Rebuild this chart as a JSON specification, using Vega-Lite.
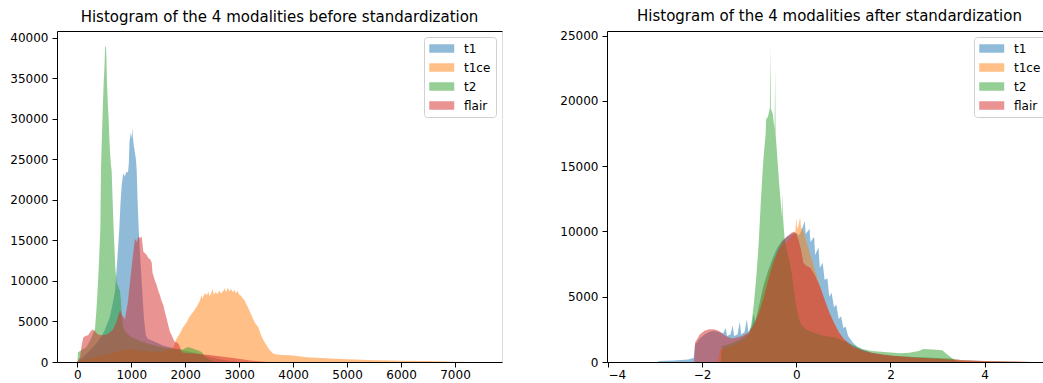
{
  "$schema": "https://vega.github.io/schema/vega-lite/v6.json",
  "padding": {"left": 9, "top": 8, "right": 0, "bottom": 0},
  "spacing": 56,
  "datasets": {
    "before": [
      {"m":"t1","v":0,"c":0},{"m":"t1","v":40,"c":300},{"m":"t1","v":100,"c":600},{"m":"t1","v":200,"c":1200},{"m":"t1","v":300,"c":1900},{"m":"t1","v":400,"c":2700},{"m":"t1","v":500,"c":3800},{"m":"t1","v":600,"c":5500},{"m":"t1","v":650,"c":7000},{"m":"t1","v":700,"c":8800},{"m":"t1","v":740,"c":12500},{"m":"t1","v":778,"c":16400},{"m":"t1","v":800,"c":19500},{"m":"t1","v":822,"c":21800},{"m":"t1","v":852,"c":23300},{"m":"t1","v":880,"c":22900},{"m":"t1","v":910,"c":23500},{"m":"t1","v":940,"c":23400},{"m":"t1","v":955,"c":24500},{"m":"t1","v":968,"c":27200},{"m":"t1","v":990,"c":28300},{"m":"t1","v":1008,"c":27600},{"m":"t1","v":1019,"c":28900},{"m":"t1","v":1030,"c":27800},{"m":"t1","v":1045,"c":26800},{"m":"t1","v":1065,"c":26000},{"m":"t1","v":1087,"c":25000},{"m":"t1","v":1100,"c":23800},{"m":"t1","v":1119,"c":19700},{"m":"t1","v":1140,"c":16200},{"m":"t1","v":1165,"c":13000},{"m":"t1","v":1193,"c":10000},{"m":"t1","v":1215,"c":7500},{"m":"t1","v":1236,"c":5400},{"m":"t1","v":1267,"c":3400},{"m":"t1","v":1300,"c":2900},{"m":"t1","v":1400,"c":2600},{"m":"t1","v":1500,"c":2300},{"m":"t1","v":1600,"c":2000},{"m":"t1","v":1800,"c":1700},{"m":"t1","v":2000,"c":1400},{"m":"t1","v":2200,"c":1100},{"m":"t1","v":2400,"c":750},{"m":"t1","v":2600,"c":400},{"m":"t1","v":2800,"c":150},{"m":"t1","v":3000,"c":0},
      {"m":"t1ce","v":0,"c":0},{"m":"t1ce","v":50,"c":200},{"m":"t1ce","v":200,"c":400},{"m":"t1ce","v":400,"c":700},{"m":"t1ce","v":600,"c":1000},{"m":"t1ce","v":800,"c":1400},{"m":"t1ce","v":950,"c":1650},{"m":"t1ce","v":1050,"c":1500},{"m":"t1ce","v":1200,"c":1350},{"m":"t1ce","v":1400,"c":1250},{"m":"t1ce","v":1600,"c":1300},{"m":"t1ce","v":1700,"c":1500},{"m":"t1ce","v":1780,"c":1800},{"m":"t1ce","v":1820,"c":2600},{"m":"t1ce","v":1850,"c":3000},{"m":"t1ce","v":1900,"c":3500},{"m":"t1ce","v":1950,"c":4200},{"m":"t1ce","v":2027,"c":4900},{"m":"t1ce","v":2080,"c":5600},{"m":"t1ce","v":2150,"c":6200},{"m":"t1ce","v":2200,"c":6700},{"m":"t1ce","v":2243,"c":7200},{"m":"t1ce","v":2274,"c":7600},{"m":"t1ce","v":2300,"c":8200},{"m":"t1ce","v":2320,"c":7800},{"m":"t1ce","v":2350,"c":8300},{"m":"t1ce","v":2380,"c":8500},{"m":"t1ce","v":2400,"c":8200},{"m":"t1ce","v":2430,"c":8700},{"m":"t1ce","v":2450,"c":8100},{"m":"t1ce","v":2480,"c":8500},{"m":"t1ce","v":2510,"c":9000},{"m":"t1ce","v":2530,"c":8300},{"m":"t1ce","v":2560,"c":8600},{"m":"t1ce","v":2600,"c":8400},{"m":"t1ce","v":2630,"c":8800},{"m":"t1ce","v":2660,"c":8500},{"m":"t1ce","v":2700,"c":8700},{"m":"t1ce","v":2730,"c":9100},{"m":"t1ce","v":2760,"c":8600},{"m":"t1ce","v":2790,"c":9200},{"m":"t1ce","v":2820,"c":8700},{"m":"t1ce","v":2850,"c":9000},{"m":"t1ce","v":2880,"c":8600},{"m":"t1ce","v":2910,"c":8900},{"m":"t1ce","v":2940,"c":8500},{"m":"t1ce","v":2970,"c":8800},{"m":"t1ce","v":3000,"c":8300},{"m":"t1ce","v":3030,"c":8200},{"m":"t1ce","v":3060,"c":7900},{"m":"t1ce","v":3090,"c":7700},{"m":"t1ce","v":3120,"c":7300},{"m":"t1ce","v":3150,"c":6900},{"m":"t1ce","v":3200,"c":6200},{"m":"t1ce","v":3240,"c":5600},{"m":"t1ce","v":3280,"c":5000},{"m":"t1ce","v":3320,"c":4600},{"m":"t1ce","v":3355,"c":4300},{"m":"t1ce","v":3400,"c":3400},{"m":"t1ce","v":3450,"c":2700},{"m":"t1ce","v":3510,"c":2050},{"m":"t1ce","v":3560,"c":1500},{"m":"t1ce","v":3633,"c":1020},{"m":"t1ce","v":3700,"c":930},{"m":"t1ce","v":3800,"c":850},{"m":"t1ce","v":4003,"c":800},{"m":"t1ce","v":4250,"c":600},{"m":"t1ce","v":4600,"c":450},{"m":"t1ce","v":5000,"c":330},{"m":"t1ce","v":5400,"c":250},{"m":"t1ce","v":6000,"c":150},{"m":"t1ce","v":6400,"c":110},{"m":"t1ce","v":6700,"c":80},{"m":"t1ce","v":7000,"c":40},{"m":"t1ce","v":7300,"c":15},{"m":"t1ce","v":7500,"c":0},
      {"m":"t2","v":0,"c":0},{"m":"t2","v":15,"c":1200},{"m":"t2","v":60,"c":1400},{"m":"t2","v":110,"c":1600},{"m":"t2","v":160,"c":1800},{"m":"t2","v":200,"c":2200},{"m":"t2","v":250,"c":2800},{"m":"t2","v":300,"c":3600},{"m":"t2","v":328,"c":4100},{"m":"t2","v":350,"c":6000},{"m":"t2","v":371,"c":8200},{"m":"t2","v":400,"c":12000},{"m":"t2","v":427,"c":16400},{"m":"t2","v":439,"c":23800},{"m":"t2","v":455,"c":27500},{"m":"t2","v":470,"c":30800},{"m":"t2","v":489,"c":34500},{"m":"t2","v":505,"c":36500},{"m":"t2","v":515,"c":38900},{"m":"t2","v":530,"c":38970},{"m":"t2","v":540,"c":37500},{"m":"t2","v":550,"c":34500},{"m":"t2","v":565,"c":32000},{"m":"t2","v":581,"c":30000},{"m":"t2","v":595,"c":27500},{"m":"t2","v":606,"c":26000},{"m":"t2","v":621,"c":24500},{"m":"t2","v":637,"c":23600},{"m":"t2","v":655,"c":20000},{"m":"t2","v":674,"c":16400},{"m":"t2","v":690,"c":14000},{"m":"t2","v":705,"c":11500},{"m":"t2","v":730,"c":9800},{"m":"t2","v":760,"c":9300},{"m":"t2","v":790,"c":8800},{"m":"t2","v":810,"c":7500},{"m":"t2","v":825,"c":5800},{"m":"t2","v":850,"c":4300},{"m":"t2","v":900,"c":3600},{"m":"t2","v":1000,"c":3100},{"m":"t2","v":1100,"c":2800},{"m":"t2","v":1200,"c":2500},{"m":"t2","v":1400,"c":2100},{"m":"t2","v":1600,"c":1800},{"m":"t2","v":1800,"c":1600},{"m":"t2","v":1950,"c":1500},{"m":"t2","v":2030,"c":1800},{"m":"t2","v":2058,"c":1850},{"m":"t2","v":2120,"c":1700},{"m":"t2","v":2243,"c":1430},{"m":"t2","v":2305,"c":1230},{"m":"t2","v":2348,"c":820},{"m":"t2","v":2400,"c":500},{"m":"t2","v":2500,"c":150},{"m":"t2","v":2550,"c":0},
      {"m":"flair","v":0,"c":0},{"m":"flair","v":50,"c":600},{"m":"flair","v":80,"c":2000},{"m":"flair","v":110,"c":3000},{"m":"flair","v":150,"c":3200},{"m":"flair","v":200,"c":3300},{"m":"flair","v":250,"c":3800},{"m":"flair","v":280,"c":4000},{"m":"flair","v":330,"c":3800},{"m":"flair","v":380,"c":3400},{"m":"flair","v":450,"c":3300},{"m":"flair","v":550,"c":3400},{"m":"flair","v":650,"c":3900},{"m":"flair","v":720,"c":4800},{"m":"flair","v":760,"c":5700},{"m":"flair","v":793,"c":6400},{"m":"flair","v":830,"c":5800},{"m":"flair","v":884,"c":5300},{"m":"flair","v":940,"c":7500},{"m":"flair","v":980,"c":10000},{"m":"flair","v":1020,"c":12500},{"m":"flair","v":1050,"c":14200},{"m":"flair","v":1069,"c":15200},{"m":"flair","v":1100,"c":14800},{"m":"flair","v":1131,"c":15500},{"m":"flair","v":1160,"c":15300},{"m":"flair","v":1193,"c":15500},{"m":"flair","v":1224,"c":13600},{"m":"flair","v":1260,"c":13400},{"m":"flair","v":1286,"c":13200},{"m":"flair","v":1320,"c":12800},{"m":"flair","v":1347,"c":12700},{"m":"flair","v":1378,"c":12300},{"m":"flair","v":1395,"c":11000},{"m":"flair","v":1409,"c":10700},{"m":"flair","v":1440,"c":10000},{"m":"flair","v":1471,"c":9500},{"m":"flair","v":1500,"c":8800},{"m":"flair","v":1533,"c":8200},{"m":"flair","v":1565,"c":7500},{"m":"flair","v":1595,"c":7000},{"m":"flair","v":1630,"c":6000},{"m":"flair","v":1657,"c":5350},{"m":"flair","v":1690,"c":4400},{"m":"flair","v":1718,"c":3700},{"m":"flair","v":1750,"c":3300},{"m":"flair","v":1780,"c":2800},{"m":"flair","v":1810,"c":2450},{"m":"flair","v":1850,"c":2400},{"m":"flair","v":1880,"c":2200},{"m":"flair","v":1910,"c":1700},{"m":"flair","v":1934,"c":1200},{"m":"flair","v":2000,"c":1100},{"m":"flair","v":2150,"c":1050},{"m":"flair","v":2275,"c":1000},{"m":"flair","v":2400,"c":900},{"m":"flair","v":2520,"c":800},{"m":"flair","v":2700,"c":650},{"m":"flair","v":2890,"c":500},{"m":"flair","v":3050,"c":350},{"m":"flair","v":3200,"c":200},{"m":"flair","v":3350,"c":100},{"m":"flair","v":3510,"c":0}
    ],
    "after": [
      {"m":"t1","v":-2.95,"c":0},{"m":"t1","v":-2.9,"c":80},{"m":"t1","v":-2.6,"c":120},{"m":"t1","v":-2.3,"c":200},{"m":"t1","v":-2.18,"c":300},{"m":"t1","v":-2.15,"c":1300},{"m":"t1","v":-2.05,"c":1800},{"m":"t1","v":-1.95,"c":2100},{"m":"t1","v":-1.85,"c":2300},{"m":"t1","v":-1.75,"c":2400},{"m":"t1","v":-1.65,"c":2300},{"m":"t1","v":-1.55,"c":2200},{"m":"t1","v":-1.5,"c":2600},{"m":"t1","v":-1.47,"c":2000},{"m":"t1","v":-1.4,"c":2100},{"m":"t1","v":-1.35,"c":2800},{"m":"t1","v":-1.32,"c":2000},{"m":"t1","v":-1.25,"c":2100},{"m":"t1","v":-1.2,"c":3100},{"m":"t1","v":-1.17,"c":2100},{"m":"t1","v":-1.1,"c":2300},{"m":"t1","v":-1.05,"c":3300},{"m":"t1","v":-1.02,"c":2300},{"m":"t1","v":-0.95,"c":2700},{"m":"t1","v":-0.9,"c":3700},{"m":"t1","v":-0.87,"c":3000},{"m":"t1","v":-0.8,"c":4200},{"m":"t1","v":-0.7,"c":5800},{"m":"t1","v":-0.6,"c":7000},{"m":"t1","v":-0.5,"c":8000},{"m":"t1","v":-0.4,"c":8800},{"m":"t1","v":-0.3,"c":9300},{"m":"t1","v":-0.2,"c":9600},{"m":"t1","v":-0.1,"c":9800},{"m":"t1","v":0,"c":9900},{"m":"t1","v":0.05,"c":9700},{"m":"t1","v":0.1,"c":10000},{"m":"t1","v":0.18,"c":10800},{"m":"t1","v":0.2,"c":9800},{"m":"t1","v":0.28,"c":10200},{"m":"t1","v":0.3,"c":9200},{"m":"t1","v":0.38,"c":9600},{"m":"t1","v":0.4,"c":8200},{"m":"t1","v":0.47,"c":8800},{"m":"t1","v":0.5,"c":7200},{"m":"t1","v":0.56,"c":7600},{"m":"t1","v":0.6,"c":6300},{"m":"t1","v":0.66,"c":6400},{"m":"t1","v":0.7,"c":5000},{"m":"t1","v":0.75,"c":5300},{"m":"t1","v":0.8,"c":4200},{"m":"t1","v":0.85,"c":4400},{"m":"t1","v":0.9,"c":3300},{"m":"t1","v":0.95,"c":3500},{"m":"t1","v":1.0,"c":2600},{"m":"t1","v":1.05,"c":2700},{"m":"t1","v":1.1,"c":2000},{"m":"t1","v":1.2,"c":1500},{"m":"t1","v":1.3,"c":1150},{"m":"t1","v":1.4,"c":950},{"m":"t1","v":1.6,"c":700},{"m":"t1","v":1.8,"c":560},{"m":"t1","v":2.0,"c":480},{"m":"t1","v":2.5,"c":380},{"m":"t1","v":3.0,"c":300},{"m":"t1","v":3.3,"c":250},{"m":"t1","v":3.5,"c":150},{"m":"t1","v":4.0,"c":80},{"m":"t1","v":4.5,"c":40},{"m":"t1","v":5.0,"c":0},
      {"m":"t1ce","v":-1.66,"c":0},{"m":"t1ce","v":-1.62,"c":900},{"m":"t1ce","v":-1.5,"c":1100},{"m":"t1ce","v":-1.3,"c":1300},{"m":"t1ce","v":-1.1,"c":1700},{"m":"t1ce","v":-1.0,"c":2100},{"m":"t1ce","v":-0.9,"c":2800},{"m":"t1ce","v":-0.8,"c":4000},{"m":"t1ce","v":-0.7,"c":5600},{"m":"t1ce","v":-0.6,"c":6900},{"m":"t1ce","v":-0.5,"c":7700},{"m":"t1ce","v":-0.4,"c":8400},{"m":"t1ce","v":-0.3,"c":8900},{"m":"t1ce","v":-0.2,"c":9200},{"m":"t1ce","v":-0.1,"c":9600},{"m":"t1ce","v":-0.02,"c":10000},{"m":"t1ce","v":0.0,"c":11000},{"m":"t1ce","v":0.02,"c":10200},{"m":"t1ce","v":0.05,"c":10500},{"m":"t1ce","v":0.08,"c":11100},{"m":"t1ce","v":0.1,"c":10300},{"m":"t1ce","v":0.15,"c":10000},{"m":"t1ce","v":0.2,"c":9400},{"m":"t1ce","v":0.25,"c":8800},{"m":"t1ce","v":0.3,"c":8200},{"m":"t1ce","v":0.4,"c":7000},{"m":"t1ce","v":0.5,"c":5800},{"m":"t1ce","v":0.6,"c":4700},{"m":"t1ce","v":0.7,"c":3800},{"m":"t1ce","v":0.8,"c":3000},{"m":"t1ce","v":0.9,"c":2300},{"m":"t1ce","v":1.0,"c":1800},{"m":"t1ce","v":1.1,"c":1400},{"m":"t1ce","v":1.2,"c":1100},{"m":"t1ce","v":1.4,"c":800},{"m":"t1ce","v":1.6,"c":620},{"m":"t1ce","v":2.0,"c":480},{"m":"t1ce","v":2.5,"c":370},{"m":"t1ce","v":3.0,"c":280},{"m":"t1ce","v":3.3,"c":240},{"m":"t1ce","v":3.5,"c":150},{"m":"t1ce","v":4.0,"c":80},{"m":"t1ce","v":4.5,"c":40},{"m":"t1ce","v":4.9,"c":20},{"m":"t1ce","v":5.0,"c":0},
      {"m":"t2","v":-1.6,"c":0},{"m":"t2","v":-1.58,"c":1200},{"m":"t2","v":-1.4,"c":1400},{"m":"t2","v":-1.2,"c":1700},{"m":"t2","v":-1.0,"c":2200},{"m":"t2","v":-0.95,"c":3000},{"m":"t2","v":-0.9,"c":4500},{"m":"t2","v":-0.85,"c":6500},{"m":"t2","v":-0.8,"c":9000},{"m":"t2","v":-0.75,"c":12500},{"m":"t2","v":-0.7,"c":15500},{"m":"t2","v":-0.65,"c":17500},{"m":"t2","v":-0.64,"c":18600},{"m":"t2","v":-0.6,"c":18800},{"m":"t2","v":-0.56,"c":19500},{"m":"t2","v":-0.55,"c":24200},{"m":"t2","v":-0.54,"c":19400},{"m":"t2","v":-0.5,"c":19000},{"m":"t2","v":-0.46,"c":17800},{"m":"t2","v":-0.45,"c":22400},{"m":"t2","v":-0.44,"c":17500},{"m":"t2","v":-0.4,"c":15500},{"m":"t2","v":-0.35,"c":13000},{"m":"t2","v":-0.3,"c":11000},{"m":"t2","v":-0.29,"c":13000},{"m":"t2","v":-0.28,"c":11000},{"m":"t2","v":-0.25,"c":9500},{"m":"t2","v":-0.2,"c":8500},{"m":"t2","v":-0.15,"c":7800},{"m":"t2","v":-0.1,"c":6800},{"m":"t2","v":-0.05,"c":5500},{"m":"t2","v":0,"c":4200},{"m":"t2","v":0.05,"c":3400},{"m":"t2","v":0.1,"c":2900},{"m":"t2","v":0.2,"c":2500},{"m":"t2","v":0.4,"c":2200},{"m":"t2","v":0.6,"c":2000},{"m":"t2","v":0.8,"c":1900},{"m":"t2","v":1.0,"c":1600},{"m":"t2","v":1.2,"c":1300},{"m":"t2","v":1.4,"c":1000},{"m":"t2","v":1.6,"c":850},{"m":"t2","v":1.8,"c":780},{"m":"t2","v":2.0,"c":720},{"m":"t2","v":2.2,"c":680},{"m":"t2","v":2.4,"c":700},{"m":"t2","v":2.6,"c":850},{"m":"t2","v":2.7,"c":1000},{"m":"t2","v":2.9,"c":950},{"m":"t2","v":3.1,"c":900},{"m":"t2","v":3.2,"c":600},{"m":"t2","v":3.3,"c":300},{"m":"t2","v":3.4,"c":50},{"m":"t2","v":3.5,"c":0},
      {"m":"flair","v":-2.17,"c":0},{"m":"flair","v":-2.15,"c":1500},{"m":"flair","v":-2.05,"c":2100},{"m":"flair","v":-1.95,"c":2400},{"m":"flair","v":-1.85,"c":2500},{"m":"flair","v":-1.75,"c":2500},{"m":"flair","v":-1.65,"c":2400},{"m":"flair","v":-1.55,"c":2100},{"m":"flair","v":-1.45,"c":1900},{"m":"flair","v":-1.35,"c":1800},{"m":"flair","v":-1.25,"c":1900},{"m":"flair","v":-1.15,"c":2000},{"m":"flair","v":-1.0,"c":2300},{"m":"flair","v":-0.9,"c":2900},{"m":"flair","v":-0.8,"c":3700},{"m":"flair","v":-0.7,"c":4800},{"m":"flair","v":-0.6,"c":6200},{"m":"flair","v":-0.5,"c":7500},{"m":"flair","v":-0.4,"c":8500},{"m":"flair","v":-0.3,"c":9200},{"m":"flair","v":-0.2,"c":9600},{"m":"flair","v":-0.1,"c":9900},{"m":"flair","v":-0.05,"c":10000},{"m":"flair","v":0,"c":9800},{"m":"flair","v":0.05,"c":9300},{"m":"flair","v":0.1,"c":8600},{"m":"flair","v":0.15,"c":7600},{"m":"flair","v":0.2,"c":7400},{"m":"flair","v":0.3,"c":7200},{"m":"flair","v":0.4,"c":6600},{"m":"flair","v":0.5,"c":5800},{"m":"flair","v":0.6,"c":4800},{"m":"flair","v":0.7,"c":3800},{"m":"flair","v":0.8,"c":3000},{"m":"flair","v":0.9,"c":2300},{"m":"flair","v":1.0,"c":1800},{"m":"flair","v":1.1,"c":1500},{"m":"flair","v":1.2,"c":1200},{"m":"flair","v":1.4,"c":900},{"m":"flair","v":1.6,"c":700},{"m":"flair","v":2.0,"c":500},{"m":"flair","v":2.5,"c":350},{"m":"flair","v":3.0,"c":250},{"m":"flair","v":3.5,"c":120},{"m":"flair","v":4.0,"c":60},{"m":"flair","v":4.5,"c":20},{"m":"flair","v":4.9,"c":0}
    ]
  },
  "hconcat": [
    {
      "title": "Histogram of the 4 modalities before standardization",
      "width": 445,
      "height": 331,
      "data": {"name": "before"},
      "layer": [
        {
          "mark": {"type": "area", "opacity": 0.5, "interpolate": "linear", "clip": true},
          "encoding": {
            "x": {"field": "v", "type": "quantitative", "scale": {"domain": [-376, 7871], "nice": false, "zero": false}, "axis": {"values": [0,1000,2000,3000,4000,5000,6000,7000], "format": "d"}},
            "y": {"field": "c", "type": "quantitative", "stack": null, "scale": {"domain": [0, 40860], "nice": false}, "axis": {"values": [0,5000,10000,15000,20000,25000,30000,35000,40000], "format": "d"}},
            "color": {"field": "m", "type": "nominal", "scale": {"domain": ["t1","t1ce","t2","flair"], "range": ["#1f77b4","#ff7f0e","#2ca02c","#d62728"]}}
          }
        },
        {
          "mark": {"type": "rule", "opacity": 0},
          "encoding": {
            "x": {"datum": 0, "type": "quantitative", "axis": {"orient": "top", "labels": false, "ticks": false, "domain": true}}
          }
        }
      ],
      "resolve": {"axis": {"x": "independent"}}
    },
    {
      "title": "Histogram of the 4 modalities after standardization",
      "width": 445,
      "height": 331,
      "data": {"name": "after"},
      "layer": [
        {
          "mark": {"type": "area", "opacity": 0.5, "interpolate": "linear", "clip": true},
          "encoding": {
            "x": {"field": "v", "type": "quantitative", "scale": {"domain": [-4.02, 5.43], "nice": false, "zero": false}, "axis": {"values": [-4,-2,0,2,4], "format": "d"}},
            "y": {"field": "c", "type": "quantitative", "stack": null, "scale": {"domain": [0, 25360], "nice": false}, "axis": {"values": [0,5000,10000,15000,20000,25000], "format": "d"}},
            "color": {"field": "m", "type": "nominal", "scale": {"domain": ["t1","t1ce","t2","flair"], "range": ["#1f77b4","#ff7f0e","#2ca02c","#d62728"]}}
          }
        },
        {
          "mark": {"type": "rule", "opacity": 0},
          "encoding": {
            "x": {"datum": 0, "type": "quantitative", "axis": {"orient": "top", "labels": false, "ticks": false, "domain": true}}
          }
        }
      ],
      "resolve": {"axis": {"x": "independent"}}
    }
  ],
  "resolve": {"legend": {"color": "independent"}},
  "config": {
    "font": "DejaVu Sans",
    "view": {"stroke": "#dcdcdc"},
    "axis": {"domainColor": "#000", "tickColor": "#000", "labelColor": "#000", "labelFontSize": 12, "labelFont": "DejaVu Sans", "tickSize": 5, "grid": false, "title": null, "domainWidth": 1, "tickWidth": 1, "labelPadding": 4},
    "axisX": {"labelPadding": 2},
    "title": {"fontSize": 15, "fontWeight": "normal", "font": "DejaVu Sans", "color": "#000", "anchor": "middle", "offset": 6},
    "legend": {"orient": "top-right", "offset": 6, "title": null, "labelFontSize": 12, "labelFont": "DejaVu Sans", "labelColor": "#000", "symbolType": "M-1,-0.68L3,-0.68L3,0.68L-1,0.68Z", "symbolSize": 156, "symbolStrokeWidth": 0, "labelOffset": 22, "rowPadding": 6, "padding": 5, "strokeColor": "#d0d0d0", "cornerRadius": 3, "fillColor": "#ffffff"}
  }
}
